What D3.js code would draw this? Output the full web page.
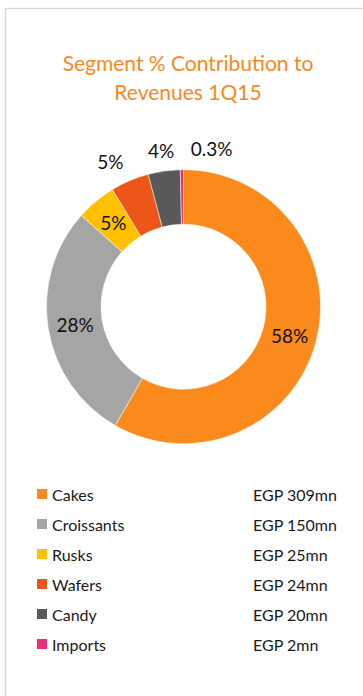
<!DOCTYPE html>
<html>
<head>
<meta charset="utf-8">
<script src="https://cdn.jsdelivr.net/npm/d3@7"></script>
<style>
  html, body { margin: 0; padding: 0; background: #fff; }
  svg { display: block; font-family: Lato, 'Open Sans', sans-serif; }
</style>
</head>
<body>
<svg width="363" height="696"></svg>
<script>
// segment data, 1Q15
const segments = ['Cakes', 'Croissants', 'Rusks', 'Wafers', 'Candy', 'Imports'];
const revenues = [309, 150, 25, 24, 20, 2];
const pctLabels = ['58%', '28%', '5%', '5%', '4%', '0.3%'];
const revLabels = ['EGP 309mn', 'EGP 150mn', 'EGP 25mn', 'EGP 24mn', 'EGP 20mn', 'EGP 2mn'];
const colors = ['#fb8a1c', '#a5a5a5', '#ffc000', '#ee5519', '#595959', '#ea3079'];
// which labels sit outside the ring (too thin to fit)
const outside = [false, false, false, true, true, true];

const svg = d3.select('svg');
const width = +svg.attr('width');

// frame lines (left + top only visible)
svg.append('line').attr('x1', 5.5).attr('x2', 5.5).attr('y1', 8.5).attr('y2', 696)
  .attr('stroke', '#d9d9d9').attr('stroke-width', 1.5);
svg.append('line').attr('x1', 5.5).attr('x2', width).attr('y1', 8.5).attr('y2', 8.5)
  .attr('stroke', '#d9d9d9').attr('stroke-width', 1.5);

// title
const title = svg.append('text')
  .attr('text-anchor', 'middle')
  .attr('fill', '#f7891f')
  .attr('font-size', 21);
title.append('tspan').attr('x', 188).attr('y', 71).text('Segment % Contribution to');
title.append('tspan').attr('x', 188).attr('y', 100).text('Revenues 1Q15');

// donut
const cx = 183.5, cy = 306.7;
const outerR = 137, innerR = 82.5;

const pie = d3.pie().sort(null).value(d => d);
const arcs = pie(revenues);
const arc = d3.arc().innerRadius(innerR).outerRadius(outerR);
const outerArc = d3.arc().innerRadius(158).outerRadius(158);

const g = svg.append('g').attr('transform', `translate(${cx},${cy})`);

g.selectAll('path')
  .data(arcs)
  .enter()
  .append('path')
  .attr('d', arc)
  .attr('fill', (d, i) => colors[i])
  .attr('stroke', '#fff')
  .attr('stroke-width', 0.5);

const anchors = ['middle', 'middle', 'middle', 'end', 'middle', 'start'];
const nudges = [0, 0, 0, 2, 0, 9];

g.selectAll('text.pct')
  .data(arcs)
  .enter()
  .append('text')
  .attr('class', 'pct')
  .attr('transform', (d, i) => {
    const p = outside[i] ? outerArc.centroid(d) : arc.centroid(d);
    return `translate(${p[0] + nudges[i]},${p[1]})`;
  })
  .attr('text-anchor', (d, i) => anchors[i])
  .attr('dominant-baseline', 'central')
  .attr('font-size', 19)
  .attr('fill', '#111')
  .text((d, i) => pctLabels[i]);

// legend
const legendY = d3.scalePoint().domain(segments).range([494, 644]);

const rows = svg.append('g')
  .selectAll('g')
  .data(segments)
  .enter()
  .append('g')
  .attr('transform', d => `translate(0,${legendY(d)})`);

rows.append('rect')
  .attr('x', 37).attr('y', -5)
  .attr('width', 10).attr('height', 10)
  .attr('fill', (d, i) => colors[i]);

rows.append('text')
  .attr('x', 52)
  .attr('dominant-baseline', 'central')
  .attr('font-size', 16)
  .attr('fill', '#1a1a1a')
  .text(d => d);

rows.append('text')
  .attr('x', 253)
  .attr('dominant-baseline', 'central')
  .attr('font-size', 16)
  .attr('fill', '#1a1a1a')
  .text((d, i) => revLabels[i]);
</script>
</body>
</html>
